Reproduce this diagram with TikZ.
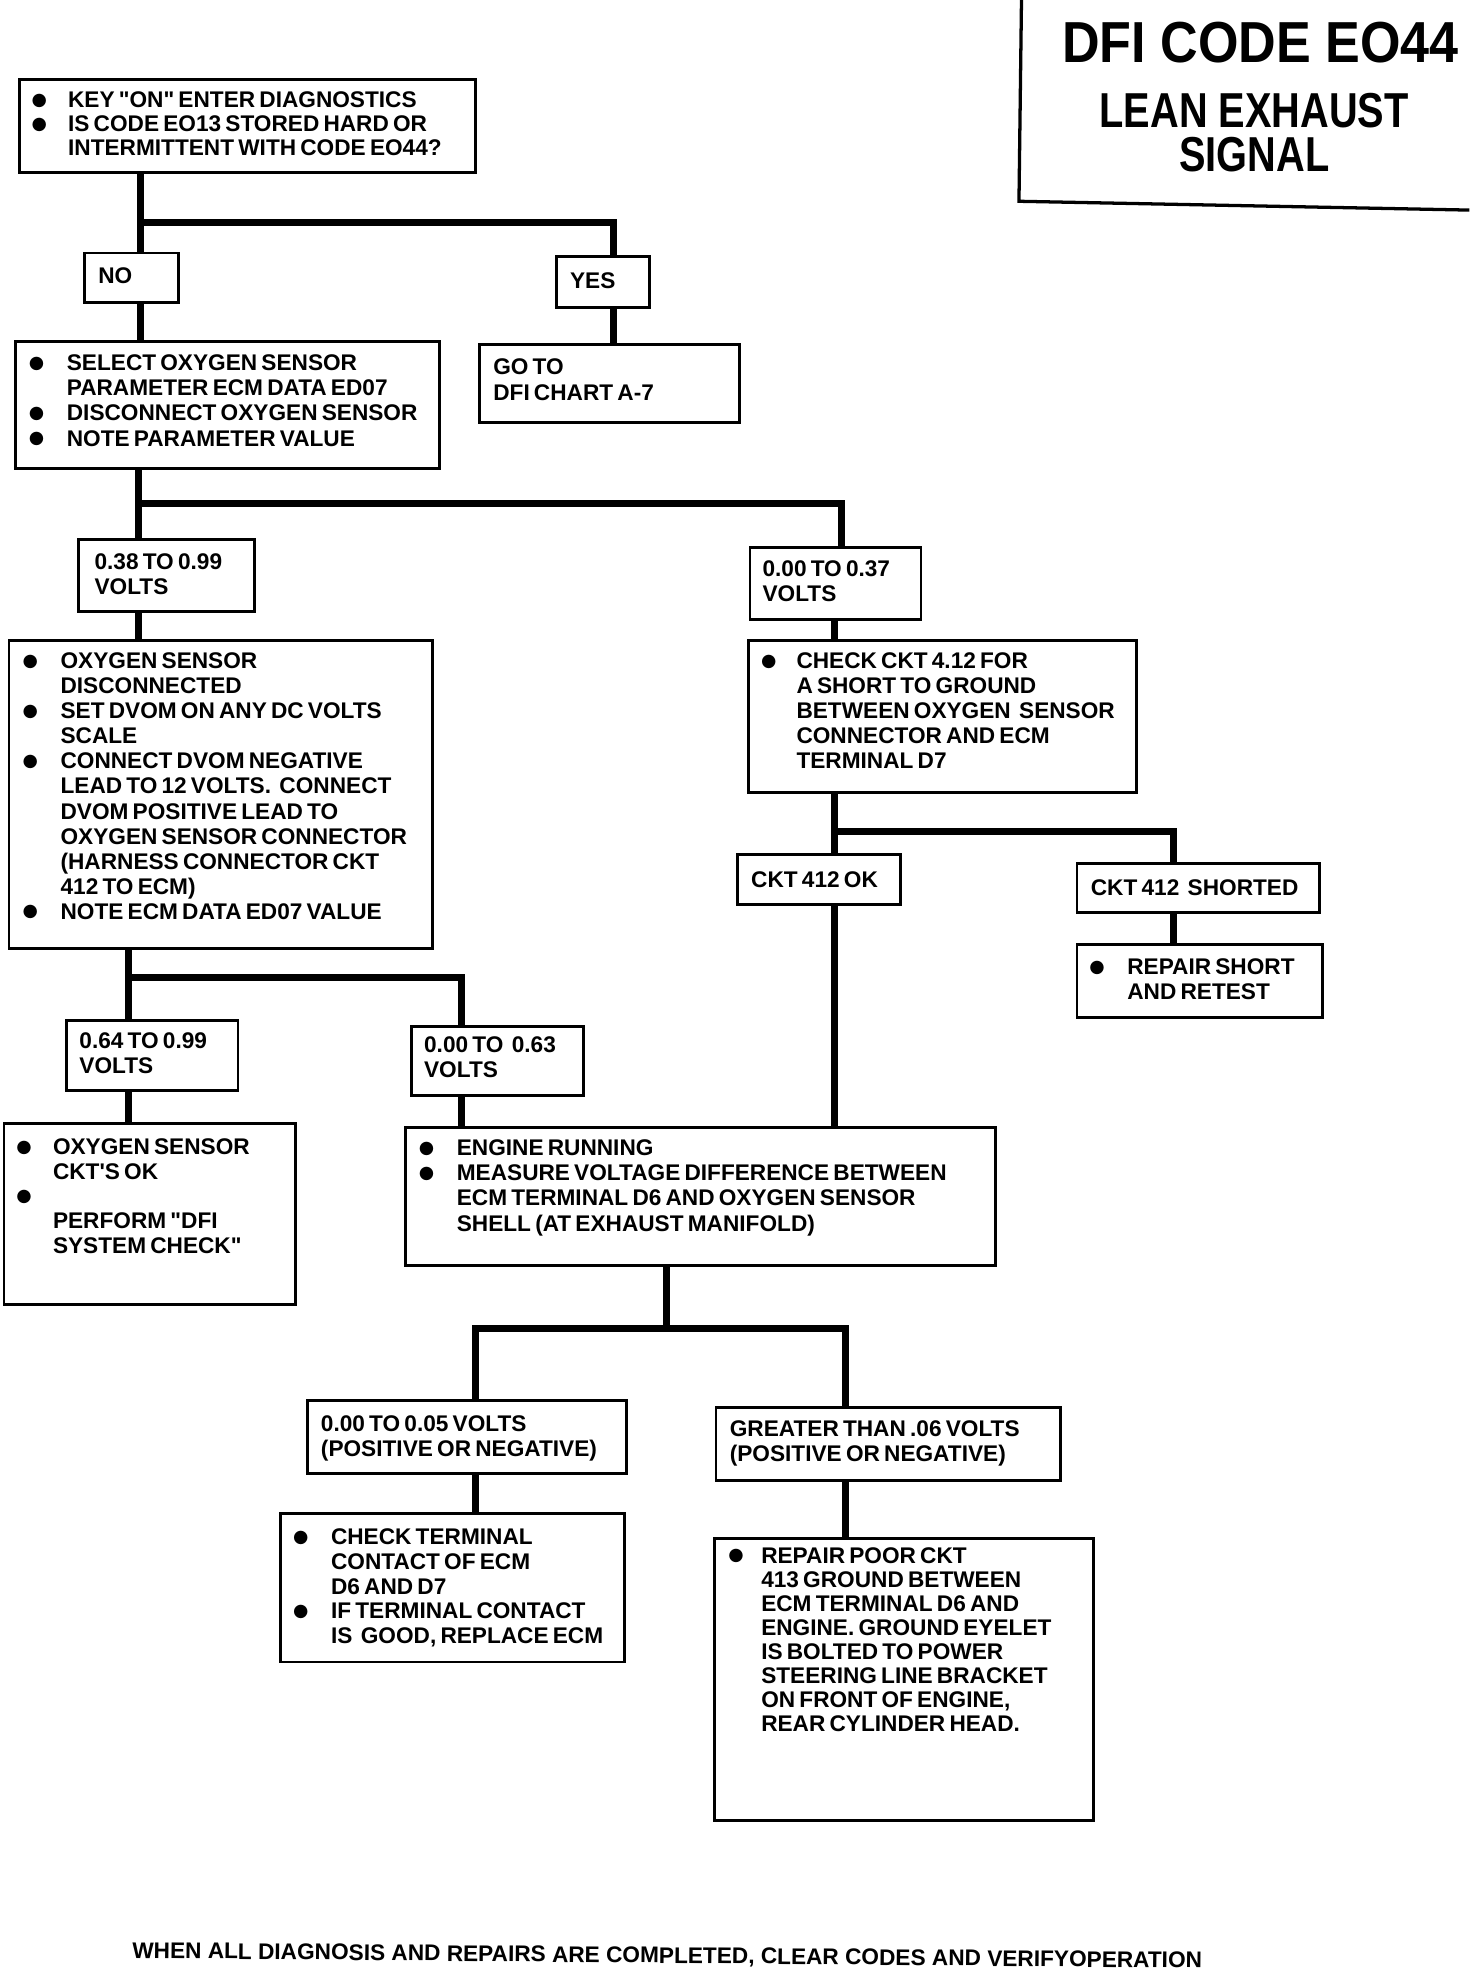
\documentclass[tikz,border=0pt]{standalone}
\usepackage{fontspec}
\setmainfont{Liberation Sans}[Ligatures=TeXOff]
\newfontfamily\symfont{DejaVu Sans}
\newfontfamily\titlefontA{Liberation Sans}[FakeStretch=0.90]
\newfontfamily\titlefontB{Liberation Sans}[FakeStretch=0.81]
\newcommand\bul[1]{\leavevmode\llap{\makebox[0pt]{\raisebox{1.8pt}{\fontsize{14}{14}\symfont ●}}\hspace{#1pt}}}
\newcommand\mkbox[9]{%
  \pgfmathsetmacro\bxw{#4-#2}%
  \pgfmathsetmacro\bxd{#5-#3-#6}%
  \node[flowbox, text width=\bxw pt, text height=#6pt, text depth=\bxd pt] (#1) at (#2,#3)
    {\fontsize{18}{#8}\selectfont\leftskip=#7pt\rightskip=-400pt plus 1fil\relax #9\par};}
\begin{document}
\begin{tikzpicture}[x=1pt,y=-1pt,
  flowbox/.style={draw, line width=2.3pt, anchor=north west, inner sep=0pt, align=left, font=\bfseries},
  conn/.style={line width=5.5pt, line join=miter},
  frame/.style={line width=2.6pt},
  titletext/.style={anchor=base, inner sep=0pt}]
\useasboundingbox[fill=white] (0,0) rectangle (1170,1566);

% title
\node[titletext, font=\titlefontA\bfseries\fontsize{46}{46}\selectfont] (title1) at (1002,50) {DFI CODE EO44};
\node[titletext, align=center, font=\titlefontB\bfseries\fontsize{39}{35}\selectfont] (title2) at (997,136) {LEAN EXHAUST\\SIGNAL};
\draw[frame] (812,0) -- (810,160) -- (1168,167);

% boxes
\mkbox{b1}{14}{62}{377}{136}{22.5}{39}{19}{\bul{23}KEY "ON" ENTER DIAGNOSTICS\\\bul{23}IS CODE EO13 STORED HARD OR\\INTERMITTENT WITH CODE EO44?}
\mkbox{no}{66}{200}{141}{239}{24.5}{11}{20}{NO}
\mkbox{yes}{441}{203}{515}{243}{25.5}{11}{20}{YES}
\mkbox{b2}{11}{270}{348}{371}{23.5}{41}{20}{\bul{24}SELECT OXYGEN SENSOR\\PARAMETER ECM DATA ED07\\\bul{24}DISCONNECT OXYGEN SENSOR\\\bul{24}NOTE PARAMETER VALUE}
\mkbox{goto}{380}{273}{587}{335}{23.5}{11}{21}{GO TO\\DFI CHART A-7}
\mkbox{v38}{61}{428}{201}{485}{23.5}{13}{20}{0.38 TO 0.99\\VOLTS}
\mkbox{v37}{595}{434}{731}{491}{23.5}{10}{19.5}{0.00 TO 0.37\\VOLTS}
\mkbox{b3}{6}{508}{343}{753}{22.5}{41}{19.9}{\bul{24}OXYGEN SENSOR\\DISCONNECTED\\\bul{24}SET DVOM ON ANY DC VOLTS\\SCALE\\\bul{24}CONNECT DVOM NEGATIVE\\LEAD TO 12 VOLTS.\ \ CONNECT\\DVOM POSITIVE LEAD TO\\OXYGEN SENSOR CONNECTOR\\(HARNESS CONNECTOR CKT\\412 TO ECM)\\\bul{24}NOTE ECM DATA ED07 VALUE}
\mkbox{chk}{594}{508}{902}{629}{22.5}{38}{19.75}{\bul{22}CHECK CKT 4.12 FOR\\A SHORT TO GROUND\\BETWEEN OXYGEN\ \ SENSOR\\CONNECTOR AND ECM\\TERMINAL D7}
\mkbox{ok}{585}{678}{715}{718}{26.5}{11}{20}{CKT 412 OK}
\mkbox{sh}{855}{685}{1048}{724}{25.5}{11}{20}{CKT 412\ \ SHORTED}
\mkbox{rep}{855}{750}{1050}{808}{23.5}{40}{20}{\bul{24}REPAIR SHORT\\AND RETEST}
\mkbox{v64}{52}{810}{188}{866}{22.5}{10}{19.5}{0.64 TO 0.99\\VOLTS}
\mkbox{v63}{326}{815}{463}{870}{20.5}{10}{19.5}{0.00 TO\ \ 0.63\\VOLTS}
\mkbox{oxok}{2}{892}{234}{1036}{24.5}{39}{19.7}{\bul{23}OXYGEN SENSOR\\CKT'S OK\\\bul{23}\\PERFORM "DFI\\SYSTEM CHECK"}
\mkbox{eng}{321}{895}{790}{1005}{22.5}{41}{20}{\bul{24}ENGINE RUNNING\\\bul{24}MEASURE VOLTAGE DIFFERENCE BETWEEN\\ECM TERMINAL D6 AND OXYGEN SENSOR\\SHELL (AT EXHAUST MANIFOLD)}
\mkbox{v05}{243}{1112}{497}{1170}{24.5}{11}{20}{0.00 TO 0.05 VOLTS\\(POSITIVE OR NEGATIVE)}
\mkbox{gt}{568}{1118}{842}{1176}{22.5}{11}{20}{GREATER THAN .06 VOLTS\\(POSITIVE OR NEGATIVE)}
\mkbox{ct}{222}{1202}{495}{1320}{24.5}{40}{19.75}{\bul{24}CHECK TERMINAL\\CONTACT OF ECM\\D6 AND D7\\\bul{24}IF TERMINAL CONTACT\\IS\ \ GOOD, REPLACE ECM}
\mkbox{rp}{567}{1222}{868}{1446}{19.5}{37}{19.1}{\bul{20}REPAIR POOR CKT\\413 GROUND BETWEEN\\ECM TERMINAL D6 AND\\ENGINE. GROUND EYELET\\IS BOLTED TO POWER\\STEERING LINE BRACKET\\ON FRONT OF ENGINE,\\REAR CYLINDER HEAD.}

% footer
\node[anchor=base west, inner sep=0pt, rotate=-0.54, font=\bfseries\fontsize{18}{18}\selectfont] (foot) at (105,1556.5) {WHEN ALL DIAGNOSIS AND REPAIRS ARE COMPLETED, CLEAR CODES AND VERIFYOPERATION};

% connectors
\coordinate (j1) at (112,177);
\coordinate (j1r) at (488,177);
\draw[conn] (j1 |- b1.south) -- (j1 |- no.north);
\draw[conn] (j1) -- (j1r) -- (j1r |- yes.north);
\draw[conn] (j1 |- no.south) -- (j1 |- b2.north);
\draw[conn] (j1r |- yes.south) -- (j1r |- goto.north);

\coordinate (j2) at (110,400);
\coordinate (j2r) at (669,400);
\draw[conn] (j2 |- b2.south) -- (j2 |- v38.north);
\draw[conn] (j2) -- (j2r) -- (j2r |- v37.north);
\draw[conn] (j2 |- v38.south) -- (j2 |- b3.north);

\coordinate (j3) at (663,661);
\coordinate (j3r) at (933,661);
\draw[conn] (j3 |- v37.south) -- (j3 |- chk.north);
\draw[conn] (j3 |- chk.south) -- (j3 |- ok.north);
\draw[conn] (j3) -- (j3r) -- (j3r |- sh.north);
\draw[conn] (j3r |- sh.south) -- (j3r |- rep.north);
\draw[conn] (j3 |- ok.south) -- (j3 |- eng.north);

\coordinate (j4) at (102,777);
\coordinate (j4r) at (367,777);
\draw[conn] (j4 |- b3.south) -- (j4 |- v64.north);
\draw[conn] (j4) -- (j4r) -- (j4r |- v63.north);
\draw[conn] (j4 |- v64.south) -- (j4 |- oxok.north);
\draw[conn] (j4r |- v63.south) -- (j4r |- eng.north);

\coordinate (j5) at (530,1056);
\coordinate (j5l) at (378,1056);
\coordinate (j5r) at (672,1056);
\draw[conn] (j5 |- eng.south) -- (j5);
\draw[conn] (j5l |- v05.north) -- (j5l) -- (j5r) -- (j5r |- gt.north);
\draw[conn] (j5l |- v05.south) -- (j5l |- ct.north);
\draw[conn] (j5r |- gt.south) -- (j5r |- rp.north);
\end{tikzpicture}
\end{document}
